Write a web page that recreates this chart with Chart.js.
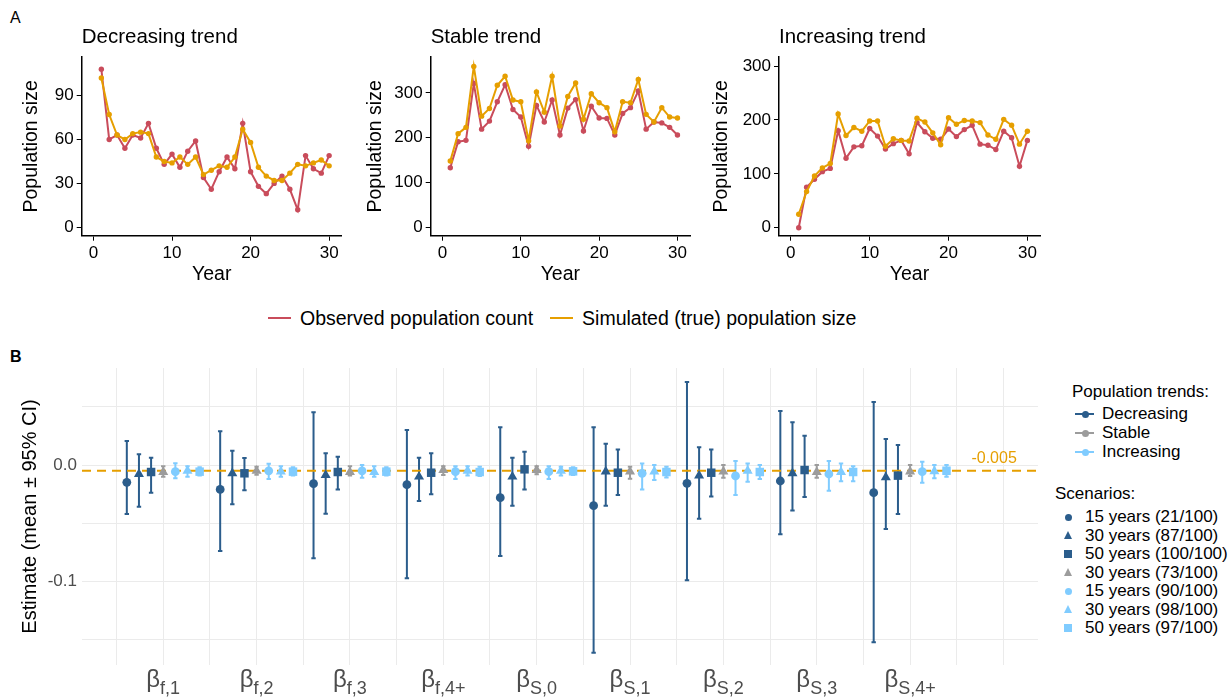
<!DOCTYPE html>
<html lang="en">
<head>
  <meta charset="UTF-8" />
  <title>Population trends and parameter estimates</title>
  <script src="https://cdn.jsdelivr.net/npm/chart.js"></script>
  <style>
    body { margin: 0; width: 1232px; height: 699px; background: #fff; position: relative; overflow: hidden;
           font-family: "Liberation Sans", Arial, sans-serif; color: #000; }
    canvas { position: absolute; }
    .tag { position: absolute; font-size: 16px; line-height: 18px; }
    .toplegend { position: absolute; left: 268px; top: 307px; display: flex; align-items: center; font-size: 19.5px; height: 22px; white-space: nowrap; }
    .seg { width: 23px; height: 2px; margin-right: 9px; }
    .rlegend { position: absolute; font-size: 17px; line-height: 20px; white-space: nowrap; }
    .key { position: absolute; }
  </style>
</head>
<body>
  <div class="tag" style="left:10px; top:9px;">A</div>
  <div class="tag" style="left:10px; top:348px; font-weight:bold;">B</div>

  <canvas id="decChart" width="350" height="276" style="left:0px; top:19px;"></canvas>
  <canvas id="staChart" width="350" height="276" style="left:350px; top:19px;"></canvas>
  <canvas id="incChart" width="350" height="276" style="left:700px; top:19px;"></canvas>

  <div class="toplegend">
    <span class="seg" style="background:#C94C5B"></span><span>Observed population count</span>
    <span class="seg" style="background:#E69F00; margin-left:17px"></span><span>Simulated (true) population size</span>
  </div>

  <canvas id="estChart" width="1045" height="359" style="left:0px; top:340px;"></canvas>
  <div id="legendB"></div>

  <script>
    // ---- panel A data ----
    const years = [1, 2, 3, 4, 5, 6, 7, 8, 9, 10, 11, 12, 13, 14, 15, 16, 17, 18, 19, 20, 21, 22, 23, 24, 25, 26, 27, 28, 29, 30];

    const decObserved  = [108, 60, 63, 54, 63, 61, 71, 54, 43, 50, 41, 52, 59, 34, 26, 38, 48, 40, 71, 38, 28, 23, 30, 35, 26, 12, 49, 40, 37, 49];
    const decSimulated = [102, 77, 63, 60, 64, 65, 64, 48, 45, 44, 48, 43, 48, 36, 39, 42, 41, 48, 67, 58, 41, 35, 32, 32, 37, 43, 42, 44, 46, 42];

    const staObserved  = [133, 191, 194, 321, 219, 237, 280, 318, 263, 246, 181, 272, 235, 284, 206, 266, 285, 215, 270, 244, 243, 206, 254, 267, 304, 219, 235, 233, 223, 206];
    const staSimulated = [148, 209, 223, 359, 248, 265, 317, 337, 284, 280, 193, 302, 257, 337, 226, 292, 322, 241, 298, 278, 267, 213, 280, 278, 330, 252, 235, 267, 246, 244];

    const incObserved  = [0, 75, 90, 104, 110, 180, 129, 150, 152, 184, 170, 146, 156, 162, 137, 195, 178, 166, 164, 183, 169, 182, 190, 155, 153, 145, 179, 167, 114, 162];
    const incSimulated = [25, 67, 96, 111, 119, 211, 171, 186, 179, 198, 198, 151, 165, 162, 161, 203, 196, 176, 154, 204, 192, 199, 198, 195, 172, 164, 201, 190, 155, 179];

    const yearTicks = [0, 10, 20, 30];

    // ---- panel B data ----
    const params = ['f,1', 'f,2', 'f,3', 'f,4+', 'S,0', 'S,1', 'S,2', 'S,3', 'S,4+'];
    const scenarioLabels = ['15 years (21/100)', '30 years (87/100)', '50 years (100/100)', '30 years (73/100)',
                            '15 years (90/100)', '30 years (98/100)', '50 years (97/100)'];
    const scenarioTrend = ['Decreasing', 'Decreasing', 'Decreasing', 'Stable', 'Increasing', 'Increasing', 'Increasing'];
    const trendNames = ['Decreasing', 'Stable', 'Increasing'];

    // one row per scenario, one column per parameter
    const estMean = [
      [-0.0148, -0.0209, -0.0160, -0.0169, -0.0280, -0.0349, -0.0157, -0.0137, -0.0237],
      [-0.0077, -0.0071, -0.0086, -0.0100, -0.0100, -0.0057, -0.0091, -0.0071, -0.0106],
      [-0.0060, -0.0071, -0.0060, -0.0066, -0.0037, -0.0066, -0.0066, -0.0043, -0.0091],
      [-0.0060, -0.0050, -0.0060, -0.0043, -0.0043, -0.0057, -0.0057, -0.0060, -0.0057],
      [-0.0057, -0.0050, -0.0050, -0.0057, -0.0057, -0.0071, -0.0094, -0.0077, -0.0057],
      [-0.0050, -0.0057, -0.0060, -0.0050, -0.0050, -0.0057, -0.0050, -0.0060, -0.0054],
      [-0.0057, -0.0057, -0.0057, -0.0060, -0.0054, -0.0060, -0.0060, -0.0060, -0.0049]
    ];
    const estLow = [
      [-0.0420, -0.0738, -0.0800, -0.0972, -0.0780, -0.1610, -0.0989, -0.0594, -0.1520],
      [-0.0357, -0.0337, -0.0418, -0.0309, -0.0349, -0.0349, -0.0460, -0.0389, -0.0549],
      [-0.0237, -0.0217, -0.0209, -0.0251, -0.0209, -0.0257, -0.0269, -0.0274, -0.0420],
      [-0.0100, -0.0083, -0.0090, -0.0086, -0.0080, -0.0117, -0.0110, -0.0110, -0.0095],
      [-0.0114, -0.0120, -0.0110, -0.0120, -0.0120, -0.0209, -0.0257, -0.0220, -0.0152],
      [-0.0100, -0.0100, -0.0100, -0.0090, -0.0090, -0.0129, -0.0143, -0.0140, -0.0114],
      [-0.0090, -0.0090, -0.0090, -0.0095, -0.0086, -0.0106, -0.0120, -0.0140, -0.0100]
    ];
    const estHigh = [
      [0.0206, 0.0290, 0.0452, 0.0300, 0.0323, 0.0323, 0.0712, 0.0463, 0.0540],
      [0.0092, 0.0123, 0.0100, 0.0063, 0.0063, 0.0183, 0.0152, 0.0366, 0.0223],
      [0.0063, 0.0060, 0.0071, 0.0100, 0.0114, 0.0134, 0.0134, 0.0251, 0.0172],
      [-0.0010, -0.0014, -0.0010, -0.0010, -0.0010, -0.0014, 0.0000, 0.0000, 0.0000],
      [0.0015, 0.0010, 0.0000, -0.0010, -0.0010, 0.0014, 0.0034, 0.0034, 0.0029],
      [-0.0010, -0.0010, -0.0010, -0.0010, -0.0014, 0.0000, 0.0014, 0.0014, 0.0000],
      [-0.0020, -0.0020, -0.0020, -0.0014, -0.0020, -0.0014, 0.0000, -0.0010, 0.0000]
    ];
    const refValue = -0.005;
    const estGrid = [0.5, 1, 1.5, 2, 2.5, 3, 3.5, 4, 4.5, 5, 5.5, 6, 6.5, 7, 7.5, 8, 8.5, 9, 9.5, 10];
    const estTicks = [-0.15, -0.1, -0.05, 0, 0.05];

    // ---- styling ----
    const FONT = '"Liberation Sans", Arial, sans-serif';
    const RED = '#C94C5B';
    const ORANGE = '#E69F00';
    const trendColors = { Decreasing: '#2B5D8C', Stable: '#9C9C9C', Increasing: '#80CCFF' };
    const scenarioShapes = ['circle', 'triangle', 'rect', 'triangle', 'circle', 'triangle', 'rect'];
    const shapeRadius = { circle: 4.4, triangle: 5.8, rect: 6 };
    const dodge = 0.13;

    Chart.defaults.font.family = FONT;
    Chart.defaults.devicePixelRatio = 1;

    function trendChart(id, title, observed, simulated, yMin, yMax, yTicks, yWidth, yTitlePad, padRight) {
      const toPts = arr => years.map((t, i) => ({ x: t, y: arr[i] }));
      return new Chart(document.getElementById(id), {
        type: 'line',
        data: {
          datasets: [
            { label: 'Observed population count', data: toPts(observed), borderColor: RED, backgroundColor: RED,
              borderWidth: 2, pointRadius: 2.7, pointBorderWidth: 0, order: 2 },
            { label: 'Simulated (true) population size', data: toPts(simulated), borderColor: ORANGE, backgroundColor: ORANGE,
              borderWidth: 2, pointRadius: 2.7, pointBorderWidth: 0, order: 1 }
          ]
        },
        options: {
          responsive: false,
          animation: false,
          layout: { padding: { top: 0, right: padRight, bottom: 0, left: 0 } },
          plugins: {
            legend: { display: false },
            tooltip: { enabled: false },
            title: { display: true, text: title, align: 'start', fullSize: false, color: '#000',
                     font: { size: 20.5, weight: 'normal' }, padding: { top: 6, bottom: 7.4 } }
          },
          scales: {
            x: {
              type: 'linear', min: -1.5, max: 31.6,
              afterBuildTicks: s => { s.ticks = yearTicks.map(v => ({ value: v })); },
              afterFit: s => { s.height = 59.3; },
              grid: { display: true, drawOnChartArea: false, drawTicks: true, tickLength: 5, color: '#000' },
              border: { display: true, color: '#000', width: 1.5 },
              ticks: { color: '#000', font: { size: 17 }, padding: 2, maxRotation: 0 },
              title: { display: true, text: 'Year', color: '#000', font: { size: 19.5 }, padding: { top: 0, bottom: 8.3 } }
            },
            y: {
              type: 'linear', min: yMin, max: yMax,
              afterBuildTicks: s => { s.ticks = yTicks.map(v => ({ value: v })); },
              afterFit: s => { s.width = yWidth; },
              grid: { display: true, drawOnChartArea: false, drawTicks: true, tickLength: 5, color: '#000' },
              border: { display: true, color: '#000', width: 1.5 },
              ticks: { color: '#000', font: { size: 17 }, padding: 3 },
              title: { display: true, text: 'Population size', color: '#000', font: { size: 19.5 }, padding: { top: yTitlePad, bottom: 0 } }
            }
          }
        }
      });
    }

    trendChart('decChart', 'Decreasing trend', decObserved, decSimulated, -5.7, 116.3, [0, 30, 60, 90], 81.7, 20.3, 8.3);
    trendChart('staChart', 'Stable trend', staObserved, staSimulated, -18.7, 380, [0, 100, 200, 300], 80.7, 14.3, 10);
    trendChart('incChart', 'Increasing trend', incObserved, incSimulated, -14.8, 316.7, [0, 100, 200, 300], 79, 10.3, 10);

    // ---- panel B ----
    const errorBars = {
      id: 'errorBars',
      beforeDatasetsDraw(chart) {
        const { ctx, scales: { x, y } } = chart;
        chart.data.datasets.forEach(ds => {
          if (!ds.low) return;
          ctx.save();
          ctx.strokeStyle = ds.borderColor;
          ctx.lineWidth = 2;
          ds.data.forEach((p, j) => {
            const px = x.getPixelForValue(p.x);
            const top = y.getPixelForValue(ds.high[j]);
            const bot = y.getPixelForValue(ds.low[j]);
            ctx.beginPath();
            ctx.moveTo(px, top); ctx.lineTo(px, bot);
            ctx.moveTo(px - 2.2, top); ctx.lineTo(px + 2.2, top);
            ctx.moveTo(px - 2.2, bot); ctx.lineTo(px + 2.2, bot);
            ctx.stroke();
          });
          ctx.restore();
        });
      }
    };

    const betaLabels = {
      id: 'betaLabels',
      afterDraw(chart) {
        const { ctx, chartArea, scales: { x, y } } = chart;
        ctx.save();
        ctx.fillStyle = '#4D4D4D';
        ctx.textBaseline = 'alphabetic';
        ctx.textAlign = 'left';
        params.forEach((p, i) => {
          const px = x.getPixelForValue(i + 1);
          ctx.font = '24px ' + FONT;
          const wb = ctx.measureText('β').width;
          ctx.font = '18px ' + FONT;
          const ws = ctx.measureText(p).width;
          const left = px - (wb + ws) / 2;
          ctx.font = '24px ' + FONT;
          ctx.fillText('β', left, chartArea.bottom + 22);
          ctx.font = '18px ' + FONT;
          ctx.fillText(p, left + wb, chartArea.bottom + 29);
        });
        // reference value label
        ctx.fillStyle = ORANGE;
        ctx.font = '16px ' + FONT;
        ctx.textAlign = 'center';
        ctx.textBaseline = 'middle';
        ctx.fillText(String(refValue), x.getPixelForValue(9.9), y.getPixelForValue(refValue) - 12);
        ctx.restore();
      }
    };

    const xMin = 0.13, xMax = 10.37;
    const estDatasets = scenarioLabels.map((label, i) => {
      const color = trendColors[scenarioTrend[i]];
      return {
        type: 'scatter',
        label: label,
        data: params.map((_, j) => ({ x: j + 1 + (i - 3) * dodge, y: estMean[i][j] })),
        low: estLow[i],
        high: estHigh[i],
        borderColor: color,
        backgroundColor: color,
        pointStyle: scenarioShapes[i],
        pointRadius: shapeRadius[scenarioShapes[i]],
        pointBorderWidth: 0,
        order: 1
      };
    });
    estDatasets.push({
      type: 'line',
      label: 'reference',
      data: [{ x: xMin, y: refValue }, { x: xMax, y: refValue }],
      borderColor: ORANGE,
      borderWidth: 2,
      borderDash: [9, 6],
      pointRadius: 0,
      order: 5
    });

    new Chart(document.getElementById('estChart'), {
      type: 'scatter',
      data: { datasets: estDatasets },
      plugins: [errorBars, betaLabels],
      options: {
        responsive: false,
        animation: false,
        layout: { padding: { top: 28, right: 7, bottom: 0, left: 0 } },
        plugins: { legend: { display: false }, tooltip: { enabled: false } },
        scales: {
          x: {
            type: 'linear', min: xMin, max: xMax,
            afterBuildTicks: s => { s.ticks = estGrid.map(v => ({ value: v })); },
            afterFit: s => { s.height = 34; },
            grid: { color: '#EBEBEB', lineWidth: 1, drawTicks: false },
            border: { display: false },
            ticks: { display: false }
          },
          y: {
            type: 'linear', min: -0.1715, max: 0.0832,
            afterBuildTicks: s => { s.ticks = estTicks.map(v => ({ value: v })); },
            afterFit: s => { s.width = 82; },
            grid: { color: '#EBEBEB', lineWidth: 1, drawTicks: false },
            border: { display: false },
            ticks: {
              color: '#4D4D4D', font: { size: 17 }, padding: 5,
              callback: v => (Math.abs(v) < 1e-9 ? '0.0' : (Math.abs(v + 0.1) < 1e-9 ? '-0.1' : ''))
            },
            title: { display: true, text: 'Estimate (mean ± 95% CI)', color: '#000', font: { size: 20 },
                     padding: { top: 18, bottom: 0 } }
          }
        }
      }
    });

    // ---- panel B legend ----
    const legendB = document.getElementById('legendB');
    function addText(text, left, centerY) {
      const d = document.createElement('div');
      d.className = 'rlegend';
      d.textContent = text;
      d.style.left = left + 'px';
      d.style.top = (centerY - 10) + 'px';
      legendB.appendChild(d);
    }
    function addKey(css) {
      const d = document.createElement('div');
      d.className = 'key';
      d.style.cssText += css;
      legendB.appendChild(d);
    }

    addText('Population trends:', 1072, 392);
    trendNames.forEach((t, i) => {
      const cy = 414 + i * 19;
      addKey(`left:1075px; top:${cy - 1}px; width:19px; height:2px; background:${trendColors[t]};`);
      addKey(`left:1081.5px; top:${cy - 3.5}px; width:7px; height:7px; border-radius:50%; background:${trendColors[t]};`);
      addText(t, 1102, cy);
    });

    addText('Scenarios:', 1055, 494);
    scenarioLabels.forEach((label, i) => {
      const cy = 517 + i * 18.5;
      const c = trendColors[scenarioTrend[i]];
      const shape = scenarioShapes[i];
      if (shape === 'circle') {
        addKey(`left:1064.5px; top:${cy - 3.5}px; width:7px; height:7px; border-radius:50%; background:${c};`);
      } else if (shape === 'triangle') {
        addKey(`left:1063.5px; top:${cy - 4.5}px; width:0; height:0; border-left:4.5px solid transparent; border-right:4.5px solid transparent; border-bottom:8px solid ${c};`);
      } else {
        addKey(`left:1064px; top:${cy - 4}px; width:8px; height:8px; background:${c};`);
      }
      addText(label, 1085, cy);
    });
  </script>
</body>
</html>
